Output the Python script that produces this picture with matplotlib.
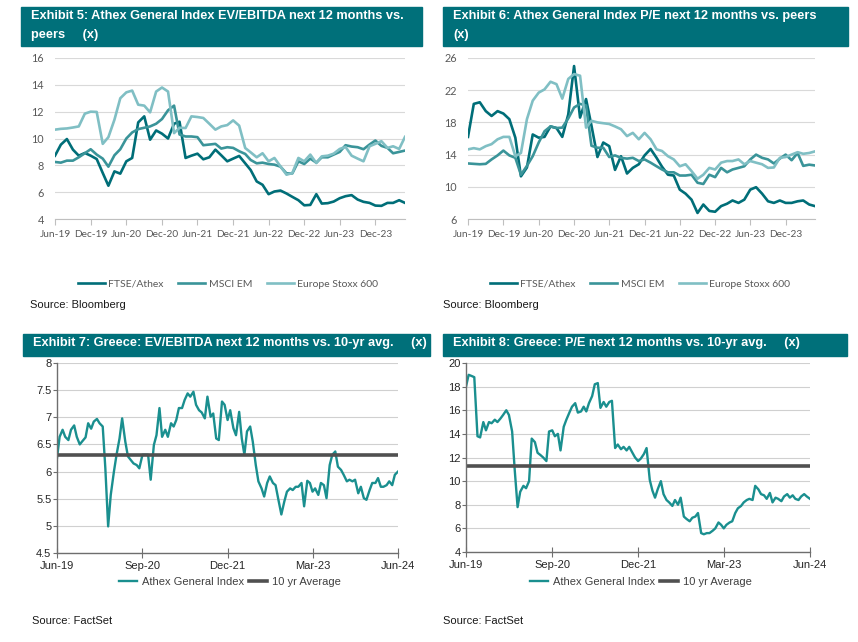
import matplotlib
matplotlib.use("Agg")
import matplotlib.pyplot as plt
import matplotlib.dates as mdates
from matplotlib.patches import Rectangle
import pandas as pd

W, H = 858, 642

# ---- data: monthly, Jun-19 .. May-24 (top charts)
months = pd.date_range("2019-06-01", periods=60, freq="MS")

ev_ftse = [8.72, 9.54, 9.96, 9.17, 8.72, 8.92, 8.72, 8.47, 7.43, 6.48,
           7.55, 7.38, 8.30, 8.55, 11.2, 11.65, 9.91, 10.6, 10.36, 10.0,
           11.1, 11.25, 8.55, 8.72, 8.87, 8.45, 8.6, 9.17, 8.75, 8.3,
           8.5, 8.7, 8.15, 7.65, 6.8, 6.55, 5.85, 6.05, 6.12, 5.9,
           5.65, 5.4, 5.02, 5.05, 5.85, 5.15, 5.18, 5.3, 5.55, 5.7,
           5.78, 5.45, 5.28, 5.2, 5.0, 4.98, 5.2, 5.2, 5.4, 5.2]
ev_msci = [8.25, 8.2, 8.35, 8.35, 8.6, 8.9, 9.2, 8.8, 8.5, 7.9,
           8.75, 9.2, 10.0, 10.45, 10.7, 10.8, 10.9, 11.1, 11.45, 12.1,
           12.45, 10.3, 10.15, 10.15, 10.1, 9.5, 9.55, 9.6, 9.25, 9.35,
           9.3, 9.05, 8.85, 8.4, 8.15, 8.2, 8.1, 8.05, 7.9, 7.4,
           7.4, 8.3, 8.1, 8.5, 8.2, 8.6, 8.6, 8.8, 9.0, 9.5,
           9.4, 9.35, 9.2, 9.55, 9.85, 9.45, 9.3, 8.9, 9.0, 9.1]
ev_stoxx = [10.66, 10.72, 10.75, 10.82, 10.9, 11.85, 12.0, 11.98, 9.6, 10.1,
            11.4, 13.0, 13.44, 13.57, 12.52, 12.45, 11.95, 13.5, 13.8, 13.5,
            10.4, 10.8, 10.78, 11.65, 11.6, 11.53, 11.1, 10.66, 10.9, 11.0,
            11.35, 10.96, 9.29, 8.97, 8.6, 8.9, 8.3, 8.55, 7.92, 7.3,
            7.43, 8.55, 8.3, 8.8, 8.17, 8.67, 8.72, 8.87, 9.22, 9.37,
            8.72, 8.5, 8.3, 9.42, 9.6, 9.8, 9.3, 9.42, 9.22, 10.12]

pe_ftse = [16.2, 20.3, 20.5, 19.4, 18.8, 19.4, 19.1, 18.4, 16.1, 11.3,
           12.4, 16.5, 16.1, 16.2, 17.5, 17.3, 16.2, 19.0, 25.0, 18.6,
           20.9, 17.6, 13.7, 15.5, 15.05, 12.1, 13.8, 11.65, 12.35, 12.8,
           13.9, 14.7, 13.6, 12.5, 11.5, 11.4, 9.65, 9.15, 8.4, 6.75,
           7.8, 7.0, 6.9, 7.6, 7.9, 8.3, 8.0, 8.4, 9.65, 9.95,
           9.15, 8.2, 8.0, 8.3, 8.0, 8.0, 8.2, 8.3, 7.8, 7.6]
pe_msci = [12.9, 12.85, 12.8, 12.85, 13.4, 13.9, 14.5, 13.9, 13.6, 11.5,
           12.6, 13.8, 15.5, 16.9, 17.5, 17.3, 17.35, 18.5, 19.85, 20.3,
           20.1, 15.1, 14.85, 14.85, 13.7, 13.9, 13.6, 13.5, 13.6, 13.2,
           13.4, 13.0, 12.55, 12.15, 11.8, 11.8, 11.4, 11.4, 11.5, 10.5,
           10.35, 11.5, 11.2, 12.35, 11.8, 12.15, 12.35, 12.55, 13.4, 14.0,
           13.6, 13.4, 12.9, 13.5, 14.0, 13.3, 14.2, 12.6, 12.75, 12.65]
pe_stoxx = [14.65, 14.8, 14.65, 15.05, 15.3, 15.9, 16.2, 16.2, 13.8, 14.2,
            18.4, 20.7, 21.7, 22.1, 23.05, 22.75, 20.95, 23.4, 24.0, 23.8,
            17.35, 18.2, 18.0, 17.9, 17.8, 17.5, 17.15, 16.3, 16.7, 15.9,
            16.7, 15.9, 14.65, 14.45, 13.8, 13.4, 12.55, 12.8, 11.95, 11.0,
            11.5, 12.35, 12.15, 13.0, 13.2, 13.2, 13.4, 12.8, 13.2, 13.0,
            12.8, 12.35, 12.4, 13.6, 13.7, 14.0, 14.3, 14.1, 14.2, 14.4]

# ---- data: semi-monthly readings, Jun-19 .. Jun-24 (bottom charts)
days = pd.date_range("2019-06-01", periods=121, freq="SMS")

gr_ev = [6.25, 6.64, 6.77, 6.64, 6.58, 6.77, 6.85, 6.64, 6.5, 6.56,
         6.63, 6.89, 6.79, 6.92, 6.97, 6.89, 6.83, 6.06, 4.99, 5.57,
         6.0, 6.31, 6.61, 6.98, 6.55, 6.28, 6.21, 6.15, 6.12, 6.06,
         6.31, 6.31, 6.31, 5.85, 6.49, 6.67, 7.17, 6.64, 6.77, 6.64,
         6.89, 6.83, 6.95, 7.17, 7.17, 7.32, 7.44, 7.38, 7.47, 7.23,
         7.13, 7.09, 6.98, 7.38, 7.01, 7.07, 6.61, 6.58, 7.29, 7.23,
         6.95, 7.13, 6.8, 6.67, 7.1, 6.61, 6.31, 6.74, 6.83, 6.55,
         6.12, 5.82, 5.69, 5.54, 5.79, 5.91, 5.79, 5.75, 5.45, 5.21,
         5.45, 5.63, 5.69, 5.66, 5.72, 5.72, 5.79, 5.36, 5.83, 5.79,
         5.63, 5.69, 5.57, 5.79, 5.75, 5.51, 6.12, 6.31, 6.37, 6.09,
         6.03, 5.94, 5.82, 5.85, 5.82, 5.85, 5.6, 5.72, 5.51, 5.48,
         5.66, 5.79, 5.79, 5.88, 5.72, 5.72, 5.75, 5.82, 5.75, 5.94,
         6.0]
gr_pe = [18.0, 19.0, 18.9, 18.8, 13.8, 13.7, 15.0, 14.3, 15.0, 14.9,
         15.2, 15.0, 15.3, 15.6, 16.0, 15.6, 14.2, 10.9, 7.8, 9.1,
         9.6, 9.4, 10.0, 13.6, 13.3, 12.4, 12.2, 12.0, 11.7, 14.2,
         14.3, 13.8, 14.0, 12.6, 14.6, 15.2, 15.8, 16.3, 16.6, 15.8,
         15.9, 16.3, 15.9, 16.6, 17.2, 18.2, 18.3, 16.2, 16.7, 16.3,
         16.7, 16.8, 12.8, 13.1, 12.7, 12.9, 12.6, 12.9, 12.4, 12.0,
         11.7, 11.9, 12.3, 12.8, 10.1, 9.2, 8.6, 9.3, 10.0, 8.9,
         8.4, 8.2, 7.9, 8.4, 8.0, 8.6, 7.0, 6.8, 6.6, 6.9,
         7.0, 7.3, 5.6, 5.5, 5.6, 5.6, 5.8, 6.0, 6.5, 6.3,
         6.0, 6.3, 6.5, 6.6, 7.3, 7.7, 7.9, 8.2, 8.4, 8.5,
         8.4, 9.6, 9.3, 8.9, 8.8, 8.5, 9.0, 8.2, 8.6, 8.5,
         8.3, 8.7, 8.9, 8.6, 8.8, 8.5, 8.4, 8.7, 8.9, 8.7,
         8.5]
ev_avg = 6.3
pe_avg = 11.3

titles = ["Exhibit 5: Athex General Index EV/EBITDA next 12 months vs.\npeers     (x)",
          "Exhibit 6: Athex General Index P/E next 12 months vs. peers\n(x)",
          "Exhibit 7: Greece: EV/EBITDA next 12 months vs. 10-yr avg.     (x)",
          "Exhibit 8: Greece: P/E next 12 months vs. 10-yr avg.     (x)"]
peer_names = ["FTSE/Athex", "MSCI EM", "Europe Stoxx 600"]
peer_colors = ["#006E78", "#3A9499", "#80BFC4"]
TEAL = "#00707A"
LINE = "#1A8F8F"
AVG = "#505050"

fig = plt.figure(figsize=(W / 100, H / 100), dpi=100)


def box(x0, y0, x1, y1):
    # pixel box (top-left origin) -> figure fraction rect
    return [x0 / W, 1 - y1 / H, (x1 - x0) / W, (y1 - y0) / H]


def header(x0, y0, x1, y1, text):
    fig.patches.append(Rectangle((x0 / W, 1 - y1 / H), (x1 - x0) / W, (y1 - y0) / H,
                                 transform=fig.transFigure, color=TEAL, zorder=0))
    fig.text((x0 + 10) / W, 1 - (y0 + 3) / H, text, color="white", fontsize=9.2,
             fontweight="bold", family="Liberation Sans", va="top", ha="left",
             linespacing=1.75)


def peers_chart(rect, series, ylim, yticks, leg_x, src_x):
    ax = fig.add_axes(box(*rect))
    for vals, name, col in zip(series, peer_names, peer_colors[:len(series)]):
        ax.plot(months, vals, color=col, lw=1.9, label=name, solid_joinstyle="round")
    ax.set_xlim(months[0], months[-1])
    ax.set_ylim(*ylim)
    ax.set_yticks(yticks)
    ax.grid(axis="y", color="#D9D9D9", lw=0.8)
    ax.set_axisbelow(True)
    for s in ["left", "right", "top"]:
        ax.spines[s].set_visible(False)
    ax.spines["bottom"].set_color("#BFBFBF")
    ticks = pd.date_range("2019-06-01", "2023-12-01", freq="6MS")
    ax.set_xticks(ticks)
    ax.xaxis.set_major_formatter(mdates.DateFormatter("%b-%y"))
    ax.tick_params(axis="x", length=4, color="#BFBFBF", labelsize=7.3,
                   labelcolor="#595959", pad=4)
    ax.tick_params(axis="y", length=0, labelsize=7.8, labelcolor="#595959", pad=8)
    for lab in ax.get_xticklabels() + ax.get_yticklabels():
        lab.set_family("Lato")
    ax.legend(loc="center", bbox_to_anchor=(leg_x / W, 1 - 284 / H),
              bbox_transform=fig.transFigure, ncol=3, frameon=False,
              prop={"family": "Lato", "size": 7.5}, labelcolor="#595959",
              handlelength=2.6, columnspacing=1.4, handletextpad=0.3)
    fig.text(src_x / W, 1 - 305 / H, "Source: Bloomberg", fontsize=8,
             family="Liberation Sans", va="center", color="#1A1A1A")
    return ax


def greece_chart(rect, vals, avg, ylim, yticks, ylabels, leg_x, src_x):
    ax = fig.add_axes(box(*rect))
    ax.plot(days, vals, color=LINE, lw=1.7, label="Athex General Index")
    ax.plot([days[0], days[-1]], [avg, avg], color=AVG, lw=2.6, label="10 yr Average")
    ax.set_xlim(days[0], days[-1])
    ax.set_ylim(*ylim)
    ax.set_yticks(yticks)
    ax.set_yticklabels(ylabels)
    ax.grid(axis="y", color="#D0D0D0", lw=0.8)
    ax.set_axisbelow(True)
    for s in ["right", "top"]:
        ax.spines[s].set_visible(False)
    for s in ["left", "bottom"]:
        ax.spines[s].set_color("#6E6E6E")
        ax.spines[s].set_linewidth(1.0)
    ticks = pd.to_datetime(["2019-06-01", "2020-09-01", "2021-12-01", "2023-03-01", "2024-06-01"])
    ax.set_xticks(ticks)
    ax.xaxis.set_major_formatter(mdates.DateFormatter("%b-%y"))
    ax.tick_params(axis="x", direction="inout", length=7, color="#6E6E6E",
                   labelsize=8, labelcolor="#262626", pad=2)
    ax.tick_params(axis="y", direction="out", length=3, color="#6E6E6E",
                   labelsize=8, labelcolor="#262626", pad=1)
    for lab in ax.get_xticklabels() + ax.get_yticklabels():
        lab.set_family("Liberation Sans")
    ax.legend(loc="center", bbox_to_anchor=(leg_x / W, 1 - 582 / H),
              bbox_transform=fig.transFigure, ncol=2, frameon=False,
              prop={"family": "Liberation Sans", "size": 8}, labelcolor="#404040",
              handlelength=1.6, columnspacing=0.4, handletextpad=0.5)
    fig.text(src_x / W, 1 - 621 / H, "Source: FactSet", fontsize=8,
             family="Liberation Sans", va="center", color="#1A1A1A")
    return ax


header(21, 7, 422, 46, titles[0])
header(443, 7, 848, 46, titles[1])
header(23, 334, 430, 356, titles[2])
header(443, 334, 847, 356, titles[3])

peers_chart((55, 58, 405, 219), [ev_ftse, ev_msci, ev_stoxx], (4, 16),
            [4, 6, 8, 10, 12, 14, 16], 228, 30)
peers_chart((468, 58, 815, 219), [pe_ftse, pe_msci, pe_stoxx], (6, 26),
            [6, 10, 14, 18, 22, 26], 640, 443)

greece_chart((57, 363, 398, 553), gr_ev, ev_avg, (4.5, 8),
             [4.5, 5, 5.5, 6, 6.5, 7, 7.5, 8],
             ["4.5", "5", "5.5", "6", "6.5", "7", "7.5", "8"], 230, 32)
greece_chart((466, 363, 810, 552), gr_pe, pe_avg, (4, 20),
             [4, 6, 8, 10, 12, 14, 16, 18, 20],
             ["4", "6", "8", "10", "12", "14", "16", "18", "20"], 641, 443)

fig.savefig("out.png", dpi=100)
